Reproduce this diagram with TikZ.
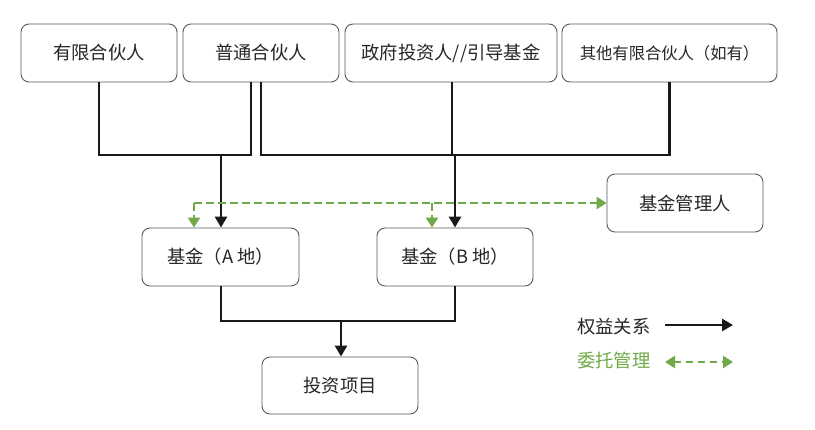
\documentclass[tikz,border=0pt]{standalone}
\usepackage{fontspec}
\setmainfont{Noto Sans CJK SC}
\usetikzlibrary{arrows.meta}
\definecolor{mgreen}{RGB}{112,170,72}
\definecolor{boxgray}{RGB}{90,90,90}
\begin{document}
\begin{tikzpicture}[x=1pt,y=-1pt,
  box/.style={draw=boxgray,line width=0.9pt,rounded corners=8pt,fill=white,inner sep=0pt,font=\fontsize{18.3}{20}\selectfont,text=black!85},
  rel/.style={line width=2.8pt,black!90},
  relarr/.style={rel,-{Triangle[length=11pt,width=12pt]}},
  del/.style={mgreen,line width=2.6pt,dash pattern=on 8pt off 4pt,-{Triangle[length=10pt,width=12pt]}}]
\useasboundingbox (0,0) rectangle (815,429);
\fill[white] (0,0) rectangle (815,429);
% top boxes
\node[box,minimum width=156pt,minimum height=58pt] (lp) at (99,53) {有限合伙人};
\node[box,minimum width=156pt,minimum height=58pt] (gp) at (261,53) {普通合伙人};
\node[box,minimum width=212pt,minimum height=58pt] (gov) at (451,53) {政府投资人//引导基金};
\node[box,minimum width=215pt,minimum height=58pt,font=\fontsize{16.3}{18}\selectfont] (olp) at (669.5,53) {其他有限合伙人（如有）};
% middle
\node[box,minimum width=157pt,minimum height=58pt] (fa) at (220.5,257) {基金（A 地）};
\node[box,minimum width=156pt,minimum height=58pt] (fb) at (455,257) {基金（B 地）};
\node[box,minimum width=156pt,minimum height=58pt] (gm) at (685,203) {基金管理人};
% bottom
\node[box,minimum width=156pt,minimum height=57pt] (proj) at (340,385.5) {投资项目};
% junctions
\coordinate (jl) at (221,155);
\coordinate (jr) at (455,155);
\coordinate (jb) at (341,321);
\coordinate (gl) at (194,203);
\coordinate (gb) at (432,203);
% black relation lines
\draw[rel] (lp.south) |- (jl) -| (gp.south -| 251,0);
\draw[rel] (gp.south -| 261,0) |- (jr) -| (olp.south);
\draw[rel] (gov.south -| 452,0) -- (452,155);
\draw[relarr] (jl) -- (fa.north -| jl);
\draw[relarr] (jr) -- (fb.north -| jr);
\draw[rel] (fa.south -| jl) |- (jb) -| (fb.south -| jr);
\draw[relarr] (jb) -- (proj.north -| jb);
% green management lines
\draw[del] (gl) -- (gm.west |- gl);
\draw[del] (gl) -- (fa.north -| gl);
\draw[del] (gb) -- (fb.north -| gb);
% legend
\node[anchor=west,inner sep=0pt,font=\fontsize{18.3}{20}\selectfont,text=black!85] (lg1) at (577,327) {权益关系};
\node[anchor=west,inner sep=0pt,font=\fontsize{18.3}{20}\selectfont,text=mgreen] (lg2) at (577,361) {委托管理};
\coordinate (a1s) at (665,325);
\coordinate (a1e) at (733,325);
\coordinate (a2s) at (665,362);
\coordinate (a2e) at (733,362);
\draw[relarr] (a1s) -- (a1e);
\draw[mgreen,line width=2.6pt,dash pattern=on 7pt off 5pt,{Triangle[length=10pt,width=12pt]}-{Triangle[length=10pt,width=12pt]}] (a2s) -- (a2e);
\end{tikzpicture}
\end{document}
